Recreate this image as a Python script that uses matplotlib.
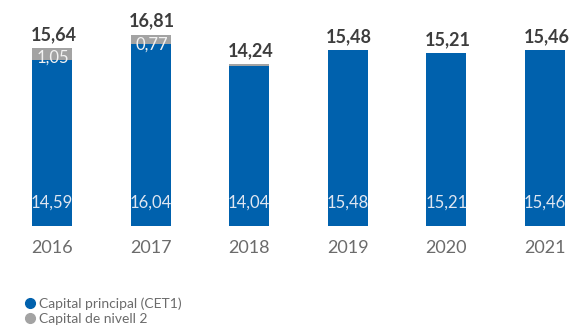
import matplotlib.pyplot as plt
from matplotlib.lines import Line2D

# Capital per any (milers de milions)
anys = ['2016', '2017', '2018', '2019', '2020', '2021']
cet1 = [14.59, 16.04, 14.04, 15.48, 15.21, 15.46]
nivell2 = [1.05, 0.77, 0.20, 0.0, 0.0, 0.0]
totals = [15.64, 16.81, 14.24, 15.48, 15.21, 15.46]

blau = '#0061ad'
gris = '#a3a3a3'

plt.rcParams['font.family'] = ['Lato', 'DejaVu Sans']

fig = plt.figure(figsize=(5.69, 3.34), dpi=100)
ax = fig.add_axes([0, 0, 1, 1])
ax.set_xlim(-0.527, 5.243)
ax.set_ylim(-9.51, 19.89)
ax.axis('off')

x = range(len(anys))
amplada = 0.406
ax.bar(x, cet1, width=amplada, color=blau, zorder=1)
ax.bar(x, nivell2, width=amplada, bottom=cet1, color=gris, zorder=1)

fmt = lambda v: f'{v:.2f}'.replace('.', ',')

for i in x:
    # total a sobre de la barra
    ax.annotate(fmt(totals[i]), (i, cet1[i] + nivell2[i]), xytext=(1, 6),
                textcoords='offset points', ha='center', va='baseline',
                fontsize=13, fontweight='bold', color='#3d3d3d', zorder=5)
    # CET1 a la base de la barra
    ax.text(i, 2.02, fmt(cet1[i]), ha='center', va='center',
            fontsize=12, color='#dfe6f1', zorder=5)
    # capital de nivell 2, només si té etiqueta
    if nivell2[i] >= 0.5:
        ax.annotate(fmt(nivell2[i]), (i, cet1[i] + nivell2[i]), xytext=(1, -7),
                    textcoords='offset points', ha='center', va='center',
                    fontsize=12, color='#f2f2f2', zorder=5)
    ax.text(i, -1.94, anys[i], ha='center', va='center',
            fontsize=13, color='#6b6b6b')

handles = [
    Line2D([], [], marker='o', linestyle='none', markersize=7, color=blau),
    Line2D([], [], marker='o', linestyle='none', markersize=7, color=gris),
]
fig.legend(handles, ['Capital principal (CET1)', 'Capital de nivell 2'],
           loc='lower left', bbox_to_anchor=(0.03, 0.01), frameon=False,
           fontsize=10, labelcolor='#6b6b6b', handletextpad=0.15,
           labelspacing=0.25, handlelength=1.0, borderaxespad=0)

fig.savefig('out.png', dpi=100)
